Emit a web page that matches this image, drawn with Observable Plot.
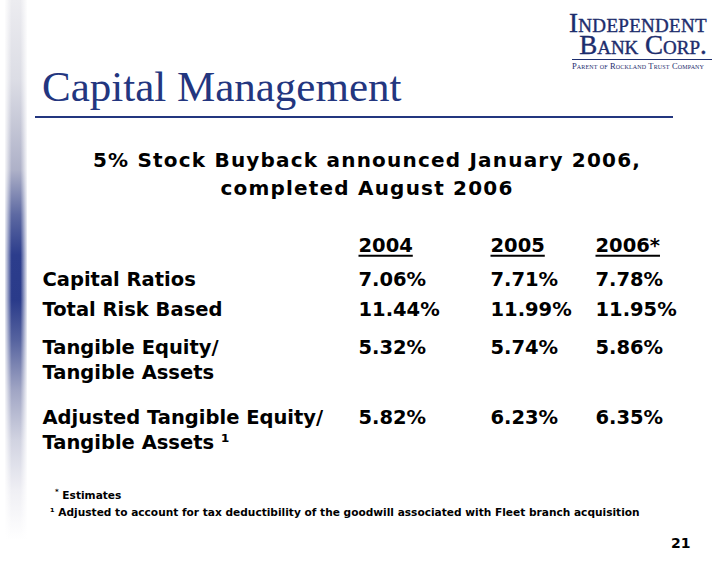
<!DOCTYPE html>
<html>
<head>
<meta charset="utf-8">
<script src="https://cdn.jsdelivr.net/npm/d3@7"></script>
<script src="https://cdn.jsdelivr.net/npm/@observablehq/plot@0.6"></script>
<style>
  html, body { margin: 0; padding: 0; background: #fff; }
  #slide { position: relative; width: 720px; height: 566px; overflow: hidden; background: #fff; }
  #slide > div { position: absolute; }
  .bar {
    left: 5px; top: 0; width: 22px; height: 540px;
    background:
      linear-gradient(to right, rgba(255,255,255,0.9) 0%, rgba(255,255,255,0) 30%, rgba(255,255,255,0) 70%, rgba(255,255,255,0.9) 100%),
      linear-gradient(to bottom, #ececf0 0px, #dcdde5 80px, #aeb1c8 170px, #5d69a2 215px, #2c3d8c 255px, #2a3b8a 300px, #56639f 340px, #a0a5c4 390px, #d1d3e1 440px, #efeff4 490px, #ffffff 540px);
  }
  .logo { left: 558px; top: 12px; width: 160px; color: #1d2d6d; font-family: "Liberation Serif", serif; text-align: center; }
  .logo .l1 { font-size: 27px; font-variant: small-caps; line-height: 22px; letter-spacing: 0.3px; -webkit-text-stroke: 0.4px #1d2d6d; }
  .logo .l2 { font-size: 27px; font-variant: small-caps; line-height: 22px; margin-left: 10px; -webkit-text-stroke: 0.4px #1d2d6d; }
  .logo .ln { height: 1px; background: #1d2d6d; margin: 3px 6px 2px 14px; }
  .logo .l3 { font-size: 8.5px; font-variant: small-caps; line-height: 9px; letter-spacing: 0.15px; }
  .title { left: 42px; top: 65px; font-family: "Liberation Serif", serif; font-size: 43px; line-height: 43px; color: #23367f; white-space: nowrap; }
  .rule { left: 35px; top: 116px; width: 638px; height: 2px; background: #23367f; }
  .sub { left: 0; top: 146px; width: 734px; text-align: center; font-family: "DejaVu Sans", sans-serif; font-weight: bold; font-size: 20px; letter-spacing: 1.2px; line-height: 28px; color: #000; }
  #chart { left: 0; top: 0; }
  .fn { font-family: "DejaVu Sans", sans-serif; font-weight: bold; font-size: 10.6px; line-height: 14px; color: #000; white-space: nowrap; }
  .fn1 { left: 55px; top: 485px; }
  .fn2 { left: 50px; top: 505px; }
  .page { left: 671px; top: 534px; font-family: "DejaVu Sans", sans-serif; font-weight: bold; font-size: 14px; line-height: 18px; }
</style>
</head>
<body>
<div id="slide">
  <div class="bar"></div>
  <div class="logo">
    <div class="l1">Independent</div>
    <div class="l2">Bank Corp.</div>
    <div class="ln"></div>
    <div class="l3">Parent of Rockland Trust Company</div>
  </div>
  <div class="title">Capital Management</div>
  <div class="rule"></div>
  <div class="sub">5% Stock Buyback announced January 2006,<br>completed August 2006</div>
  <div id="chart"></div>
  <div class="fn fn1"><sup style="font-size:7px">*</sup> Estimates</div>
  <div class="fn fn2">¹ Adjusted to account for tax deductibility of the goodwill associated with Fleet branch acquisition</div>
  <div class="page">21</div>
</div>
<script>
// ---- data ----
const years = ["2004", "2005", "2006*"];
const rowLabels = [
  "Capital Ratios",
  "Total Risk Based",
  "Tangible Equity/\nTangible Assets",
  "Adjusted Tangible Equity/\nTangible Assets ¹"
];
const capitalRatios    = [7.06, 7.71, 7.78];
const totalRiskBased   = [11.44, 11.99, 11.95];
const tangibleEquity   = [5.32, 5.74, 5.86];
const adjustedTangible = [5.82, 6.23, 6.35];

// ---- table built from arrays ----
const series = [capitalRatios, totalRiskBased, tangibleEquity, adjustedTangible];
const headers = years.map((y, j) => ({col: j, row: 0, text: y}));
const labels = rowLabels.map((t, i) => ({col: -1, row: i + 1, text: t}));
const cells = series.flatMap((vals, i) => vals.map((v, j) => ({col: j, row: i + 1, text: d3.format(".2f")(v) + "%"})));

const plot = Plot.plot({
  width: 720,
  height: 566,
  margin: 0,
  style: {background: "transparent", fontFamily: "DejaVu Sans, sans-serif", color: "#000", overflow: "visible"},
  x: {type: "linear", domain: [-1, 0, 1, 2], range: [42, 358, 490, 595], axis: null},
  y: {type: "linear", domain: [0, 1, 2, 3, 4], range: [238, 272, 302, 340, 410], axis: null},
  marks: [
    Plot.text(headers, {x: "col", y: "row", text: "text", textAnchor: "start", lineAnchor: "top", fontSize: 19.5, fontWeight: "bold", fill: "#000"}),
    Plot.text(labels, {x: "col", y: "row", text: "text", textAnchor: "start", lineAnchor: "top", lineHeight: 1.28, dy: -4, fontSize: 19.5, fontWeight: "bold", fill: "#000"}),
    Plot.text(cells, {x: "col", y: "row", text: "text", textAnchor: "start", lineAnchor: "top", fontSize: 19.5, fontWeight: "bold", fill: "#000"})
  ]
});
document.getElementById("chart").appendChild(plot);

// underline the year headers, measured from the rendered header texts
d3.select(plot).selectAll("text").filter(function() { return years.includes(this.textContent); }).each(function() {
  const b = this.getBBox();
  d3.select(this.parentNode).append("line")
    .attr("transform", this.getAttribute("transform"))
    .attr("x1", b.x).attr("x2", b.x + b.width)
    .attr("y1", b.y + b.height - 1.5).attr("y2", b.y + b.height - 1.5)
    .attr("stroke", "#000").attr("stroke-width", 2);
});
</script>
</body>
</html>
